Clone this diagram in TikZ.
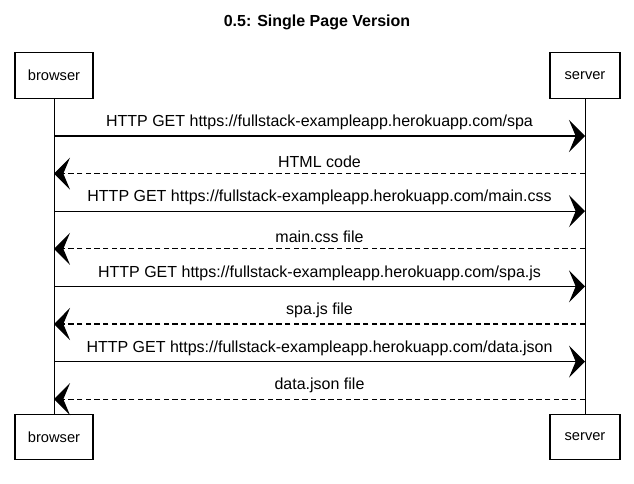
\documentclass[tikz,border=0pt]{standalone}
\usepackage{fontspec}
\setmainfont{Liberation Sans}
\usetikzlibrary{arrows.meta,positioning}

\begin{document}
\begin{tikzpicture}[x=.75pt,y=-.75pt,
  actor/.style={draw,line width=.9pt,minimum height=34pt,font=\fontsize{11}{13}\selectfont},
  req/.style={line width=.9pt,-{Stealth[length=12pt,width=24pt,inset=5pt]}},
  resp/.style={req,dash pattern=on 4pt off 2.5pt},
  msg/.style={font=\fontsize{12}{14}\selectfont,inner sep=1pt,above=3pt}]
\useasboundingbox (0,0) rectangle (634,483);
\node[font=\bfseries\fontsize{12}{14}\selectfont] (title) at (317,22) {0.5: Single Page Version};
\node[actor,minimum width=58.5pt] (browserT) at (54,75.5) {browser};
\node[actor,minimum width=52.5pt] (serverT) at (585,75.5) {server};
\node[actor,minimum width=58.5pt] (browserB) at (54,437) {browser};
\node[actor,minimum width=52.5pt] (serverB) at (585,437) {server};
\draw[line width=.7pt] (browserT) -- (browserB);
\draw[line width=.7pt] (serverT) -- (serverB);
% requests
\foreach \y/\v in {136/spa,211.2/main.css,286.4/spa.js,361.6/data.json}{
  \coordinate (m) at (317,\y);
  \draw[req] (browserT |- m) -- node[msg] {HTTP GET https://fullstack-exampleapp.herokuapp.com/\v} (serverT |- m);
}
% responses
\foreach \y/\v in {173.6/HTML code,248.8/main.css file,324/spa.js file,399.2/data.json file}{
  \coordinate (m) at (317,\y);
  \draw[resp] (serverT |- m) -- node[msg] {\v} (browserT |- m);
}
\end{tikzpicture}
\end{document}
